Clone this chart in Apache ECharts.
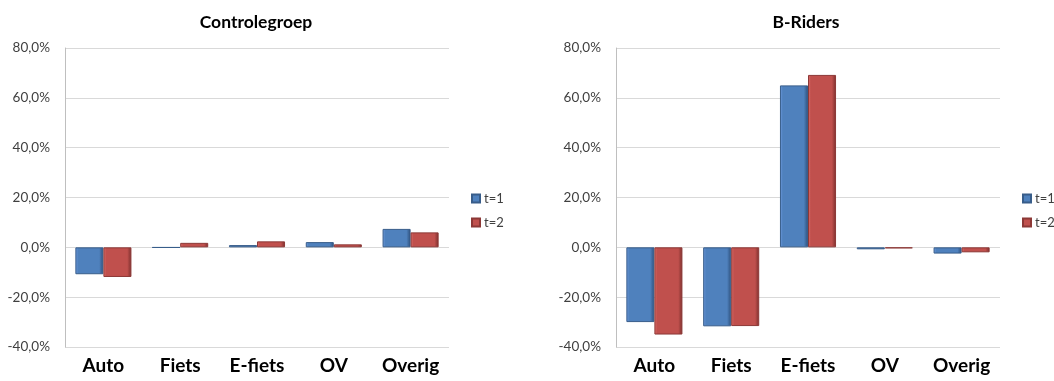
<!DOCTYPE html>
<html>
<head>
<meta charset="utf-8">
<script src="https://cdn.jsdelivr.net/npm/echarts@6/dist/echarts.min.js"></script>
<style>
  html, body { margin: 0; padding: 0; background: #ffffff; }
  #chart { width: 1054px; height: 381px; }
</style>
</head>
<body>
<div id="chart"></div>
<script>
// Modal split change per vehicle type, in percent
const categories = ['Auto', 'Fiets', 'E-fiets', 'OV', 'Overig'];
const seriesNames = ['t=1', 't=2'];
const controleT1 = [-10.8, -0.1, 0.9, 2.1, 7.4];
const controleT2 = [-11.9, 1.8, 2.4, 1.2, 6.0];
const ridersT1 = [-30.0, -31.7, 65.0, -0.8, -2.5];
const ridersT2 = [-35.0, -31.6, 69.2, -0.4, -2.0];
const panelTitles = ['Controlegroep', 'B-Riders'];
const yMin = -40, yMax = 80, yStep = 20;

const FONT = 'Lato, "Open Sans", sans-serif';

// Bevelled bar fill: light left edge, dark right edge
function bevel(light, base, dark) {
  return {
    type: 'linear', x: 0, y: 0, x2: 1, y2: 0,
    colorStops: [
      { offset: 0, color: light },
      { offset: 0.1, color: base },
      { offset: 0.85, color: base },
      { offset: 1, color: dark }
    ]
  };
}
const blueStyle = { color: bevel('#6f9be0', '#4f81bd', '#2d4f7a'), borderColor: '#385d8a', borderWidth: 1 };
const redStyle = { color: bevel('#e0706c', '#c0504d', '#7a2e2c'), borderColor: '#8c3836', borderWidth: 1 };

const grids = [
  { left: 65, top: 48, width: 384, height: 299 },
  { left: 616, top: 48, width: 384, height: 299 }
];
const titleX = [251, 801];
const legendX = [466, 1017];

function pctLabel(v) {
  return v.toFixed(1).replace('.', ',') + '%';
}

const option = {
  backgroundColor: '#ffffff',
  animation: false,
  title: panelTitles.map((t, i) => ({
    text: t,
    left: titleX[i],
    top: 8,
    textAlign: 'center',
    textStyle: { fontFamily: FONT, fontSize: 17.5, fontWeight: 'bold', color: '#000000' }
  })),
  legend: legendX.map(x => ({
    data: seriesNames,
    orient: 'vertical',
    left: x,
    top: 187,
    itemWidth: 8,
    itemHeight: 8,
    itemGap: 11,
    icon: 'rect',
    textStyle: { fontFamily: FONT, fontSize: 13, color: '#404040', padding: [0, 0, 0, -1] }
  })),
  grid: grids,
  xAxis: grids.map((g, i) => ({
    type: 'category',
    gridIndex: i,
    data: categories,
    axisLine: { onZero: false, show: false },
    axisTick: { show: false },
    axisLabel: { fontFamily: FONT, fontSize: 19, fontWeight: 'bold', color: '#000000', margin: 9 }
  })),
  yAxis: grids.map((g, i) => ({
    type: 'value',
    gridIndex: i,
    min: yMin,
    max: yMax,
    interval: yStep,
    axisLine: { show: true, lineStyle: { color: '#bfbfbf' } },
    axisTick: { show: false },
    splitLine: { lineStyle: { color: '#d9d9d9' } },
    axisLabel: { fontFamily: FONT, fontSize: 13.5, color: '#404040', margin: 15, formatter: pctLabel }
  })),
  series: [
    { name: 't=1', type: 'bar', xAxisIndex: 0, yAxisIndex: 0, data: controleT1, itemStyle: blueStyle, barGap: '0%', barCategoryGap: '27%' },
    { name: 't=2', type: 'bar', xAxisIndex: 0, yAxisIndex: 0, data: controleT2, itemStyle: redStyle, barGap: '0%', barCategoryGap: '27%' },
    { name: 't=1', type: 'bar', xAxisIndex: 1, yAxisIndex: 1, data: ridersT1, itemStyle: blueStyle, barGap: '0%', barCategoryGap: '27%' },
    { name: 't=2', type: 'bar', xAxisIndex: 1, yAxisIndex: 1, data: ridersT2, itemStyle: redStyle, barGap: '0%', barCategoryGap: '27%' }
  ]
};

const chart = echarts.init(document.getElementById('chart'), null, { renderer: 'canvas' });
chart.setOption(option);
</script>
</body>
</html>
